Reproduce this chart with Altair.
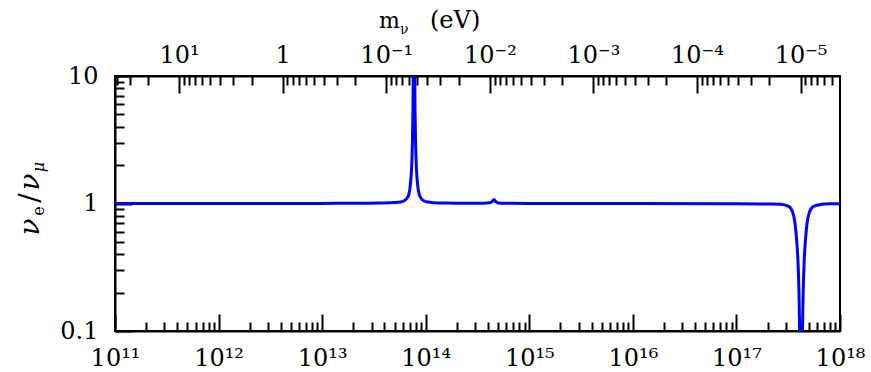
import altair as alt
import pandas as pd

# ---- data ----
energy_gev = [1e11, 3e11, 1e12, 3e12, 1e13, 2e13, 3.5e13, 5.0e13, 5.65e13, 6.12e13,
              6.56e13, 6.87e13, 7.05e13, 7.19e13, 7.33e13, 7.45e13, 7.53e13, 7.60e13,
              7.66e13, 7.71e13, 7.76e13, 7.82e13, 7.89e13, 7.98e13, 8.11e13, 8.26e13,
              8.43e13, 8.65e13, 9.06e13, 9.70e13, 1.05e14, 1.2e14, 1.6e14, 2.5e14,
              3.6e14, 4.17e14, 4.42e14, 4.56e14, 4.71e14, 5.0e14, 6.0e14, 1e15, 1e16,
              1e17, 2.0e17, 2.65e17, 3.19e17, 3.50e17, 3.66e17, 3.79e17, 3.93e17,
              4.02e17, 4.09e17, 4.15e17, 4.21e17, 4.27e17, 4.33e17, 4.41e17, 4.51e17,
              4.67e17, 4.83e17, 5.06e17, 5.55e17, 6.67e17, 8e17, 1e18]
ratio = [1.0, 1.0, 1.0, 1.0, 1.002, 1.005, 1.01, 1.018, 1.026, 1.045,
         1.094, 1.18, 1.32, 1.55, 2.0, 3.1, 5.4, 13,
         40, 100, 40, 13, 5.4, 3.1, 2.0, 1.55,
         1.32, 1.18, 1.094, 1.045, 1.026, 1.015, 1.008, 1.004,
         1.004, 1.012, 1.04, 1.075, 1.04, 1.01, 1.003, 1.0, 1.0,
         0.997, 0.99, 0.985, 0.95, 0.85, 0.72, 0.55, 0.35,
         0.2, 0.09, 0.04, 0.02, 0.04, 0.09, 0.2, 0.35,
         0.55, 0.72, 0.85, 0.95, 0.985, 0.995, 0.997]

bottom_tick_values = [1e11, 1e12, 1e13, 1e14, 1e15, 1e16, 1e17, 1e18]
bottom_tick_labels = ["10¹¹", "10¹²", "10¹³", "10¹⁴", "10¹⁵", "10¹⁶", "10¹⁷", "10¹⁸"]
top_tick_values = [10, 1, 0.1, 0.01, 0.001, 0.0001, 0.00001]
top_tick_labels = ["10¹", "1", "10⁻¹", "10⁻²", "10⁻³", "10⁻⁴", "10⁻⁵"]
y_tick_values = [0.1, 1, 10]
y_tick_labels = ["0.1", "1", "10"]

E_TIMES_M = 4.16e12  # resonance energy (GeV) times neutrino mass (eV)
E_MIN, E_MAX = 1e11, 1e18
Y_MIN, Y_MAX = 0.1, 10

W, H = 725, 255
FONT = "DejaVu Serif"
FS = 24

df = pd.DataFrame({"E": energy_gev, "ratio": ratio})


def label_expr(labels, first_exp, sign):
    arr = "[" + ",".join("'" + s + "'" for s in labels) + "]"
    return f"{arr}[{sign}*(round(log(datum.value)/LN10)-({first_exp}))]"


major_test = "abs(log(datum.value)/LN10 - round(log(datum.value)/LN10)) < 0.001"
tick_size = {"condition": {"test": major_test, "value": 17}, "value": 9}

x_scale = alt.Scale(type="log", domain=[E_MIN, E_MAX], nice=False)
m_scale = alt.Scale(type="log", domain=[E_TIMES_M / E_MAX, E_TIMES_M / E_MIN],
                    reverse=True, nice=False)
y_scale = alt.Scale(type="log", domain=[Y_MIN, Y_MAX], nice=False)

label_common = dict(grid=False, title=None, ticks=False, tickSize=0, domain=True,
                    domainColor="black", domainWidth=2, labelFont=FONT,
                    labelFontSize=FS, labelColor="black", labelFlush=False,
                    labelOverlap=False, labelBound=False)
tick_common = dict(grid=False, title=None, labels=False, domain=False, ticks=True,
                   tickSize=tick_size, tickColor="black", tickWidth=2, tickCount=20)

ax_bottom = alt.Axis(orient="bottom", values=bottom_tick_values,
                     labelExpr=label_expr(bottom_tick_labels, 11, 1),
                     labelPadding=15, **label_common)
ax_bottom_ticks = alt.Axis(orient="top", offset=-H, **tick_common)
ax_top = alt.Axis(orient="top", values=top_tick_values,
                  labelExpr=label_expr(top_tick_labels, 1, -1),
                  labelPadding=9, **label_common)
ax_top_ticks = alt.Axis(orient="bottom", offset=-H, **tick_common)
ax_left = alt.Axis(orient="left", values=y_tick_values,
                   labelExpr=label_expr(y_tick_labels, -1, 1),
                   labelPadding=17, **label_common)
ax_left_ticks = alt.Axis(orient="right", offset=-W, **tick_common)

base = alt.Chart(df)

line = base.mark_line(color="#0000ff", strokeWidth=3, clip=True,
                      interpolate="monotone").encode(
    x=alt.X("E:Q", scale=x_scale, axis=ax_bottom),
    y=alt.Y("ratio:Q", scale=y_scale, axis=ax_left),
)
energy_ticks = base.mark_line(strokeOpacity=0).encode(
    x=alt.X("E:Q", scale=x_scale, axis=ax_bottom_ticks),
    y=alt.Y("ratio:Q", scale=y_scale, axis=ax_left_ticks),
)
mass_base = base.transform_calculate(m=f"{E_TIMES_M}/datum.E")
mass_labels = mass_base.mark_line(strokeOpacity=0).encode(
    x=alt.X("m:Q", scale=m_scale, axis=ax_top),
    y=alt.Y("ratio:Q", scale=y_scale, axis=None),
)
mass_ticks = mass_base.mark_line(strokeOpacity=0).encode(
    x=alt.X("m:Q", scale=m_scale, axis=ax_top_ticks),
    y=alt.Y("ratio:Q", scale=y_scale, axis=None),
)

one = pd.DataFrame({"k": [0]})


def txt(s, x, y, size, style="normal", angle=0, baseline="middle", align="center"):
    return alt.Chart(one).mark_text(
        text=s, font=FONT, fontSize=size, fontStyle=style, angle=angle,
        baseline=baseline, align=align, color="black",
    ).encode(x=alt.value(x), y=alt.value(y))


titles = [
    # top axis title: m_nu (eV)
    txt("m", 264, -48, 22, baseline="alphabetic", align="left"),
    txt("ν", 285, -42, 14, baseline="alphabetic", align="left"),
    txt("(eV)", 315, -48, 24, baseline="alphabetic", align="left"),
    # y title: nu_e / nu_mu (rotated)
    txt("ν", -84, 151, 28, style="italic", angle=270),
    txt("e", -76, 135, 16, angle=270),
    txt("/", -84, 122, 28, angle=270),
    txt("ν", -84, 106, 28, style="italic", angle=270),
    txt("μ", -76, 91, 16, style="italic", angle=270),
]

chart = alt.layer(line, energy_ticks, mass_labels, mass_ticks, *titles).resolve_scale(
    x="independent"
).resolve_axis(
    x="independent", y="independent"
).properties(
    width=W, height=H,
    padding={"left": 115, "top": 76, "right": 31, "bottom": 41},
    autosize=alt.AutoSizeParams(type="none"),
    background="white",
).configure_view(stroke="black", strokeWidth=2)

chart.save("out.html", embed_options={"renderer": "svg", "actions": False})
